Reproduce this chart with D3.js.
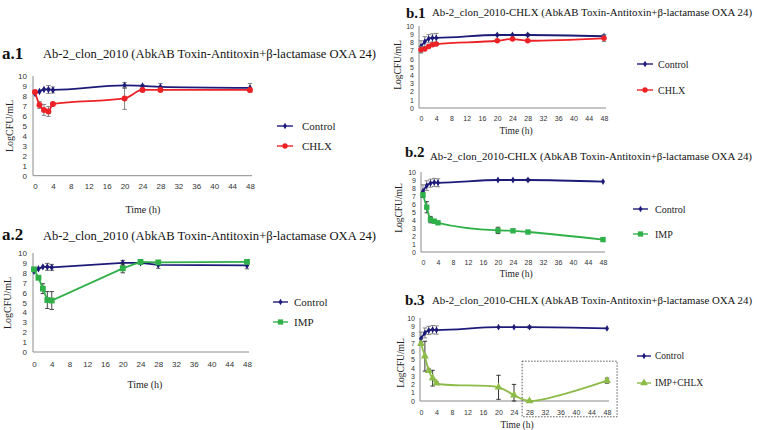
<!DOCTYPE html>
<html><head><meta charset="utf-8">
<script src="https://cdn.jsdelivr.net/npm/d3@7"></script>
<style>body{margin:0;background:#fff}svg{display:block}</style>
</head><body>
<svg id="c" width="758" height="430"></svg>
<script>
// ---- data ----
const times = [0, 1, 2, 3, 4, 20, 24, 28, 48];
const xTicks = [0, 4, 8, 12, 16, 20, 24, 28, 32, 36, 40, 44, 48];
const yTicks = [0, 1, 2, 3, 4, 5, 6, 7, 8, 9, 10];
const titleA = "Ab-2_clon_2010 (AbkAB Toxin-Antitoxin+β-lactamase OXA 24)";
const titleB = "Ab-2_clon_2010-CHLX (AbkAB Toxin-Antitoxin+β-lactamase OXA 24)";

const a1Control = [8.25, 8.45, 8.65, 8.65, 8.6, 9.05, 9.0, 8.9, 8.8];
const a1ControlErr = [0, 0, 0, 0.4, 0.3, 0.3, 0.1, 0.35, 0.45];
const a1Chlx = [8.4, 7.1, 6.6, 6.45, 7.2, 7.75, 8.6, 8.6, 8.6];
const a1ChlxErr = [0.1, 0.35, 0.55, 0.5, 0.1, 1.1, 0.15, 0.15, 0.15];

const a2Control = [8.15, 8.4, 8.6, 8.6, 8.55, 9.0, 9.0, 8.8, 8.75];
const a2ControlErr = [0, 0, 0, 0.35, 0.3, 0.25, 0.1, 0.35, 0.35];
const a2Imp = [8.35, 7.5, 6.4, 5.25, 5.2, 8.45, 9.1, 9.05, 9.1];
const a2ImpErr = [0.1, 0.15, 0.5, 0.85, 0.9, 0.45, 0.1, 0.1, 0.1];

const b1Control = [7.5, 8.1, 8.45, 8.55, 8.55, 8.9, 8.9, 8.9, 8.75];
const b1ControlErr = [0.7, 0.6, 0.5, 0.5, 0.55, 0.1, 0.1, 0.2, 0.2];
const b1Chlx = [7.1, 7.2, 7.5, 7.7, 7.8, 8.2, 8.4, 8.2, 8.5];
const b1ChlxErr = [0.4, 0.2, 0.2, 0.2, 0.2, 0.1, 0.1, 0.1, 0.4];

const b2Control = [7.6, 8.3, 8.6, 8.7, 8.65, 9.0, 9.0, 9.0, 8.8];
const b2ControlErr = [0.8, 0.6, 0.5, 0.5, 0.5, 0, 0, 0.15, 0];
const b2Imp = [7.15, 5.6, 4.05, 3.85, 3.65, 2.7, 2.65, 2.5, 1.55];
const b2ImpErr = [0.3, 0.7, 0.4, 0.2, 0.15, 0.4, 0.15, 0.15, 0.15];

const b3Control = [7.5, 8.2, 8.5, 8.6, 8.55, 8.9, 8.9, 8.9, 8.75];
const b3ControlErr = [0.8, 0.6, 0.5, 0.5, 0.5, 0, 0, 0.15, 0];
const b3ImpChlx = [6.9, 5.4, 3.65, 2.75, 2.15, 1.65, 0.7, 0.0, 2.45];
const b3ImpChlxErr = [0.2, 1.8, 0.2, 0.95, 0.15, 1.45, 1.3, 0.05, 0.3];
const b3BoxX = [26.1, 50.6];
const b3BoxY = [4.8, -1.9];

// ---- styles ----
const NAVY = "#1d1b78", RED = "#ec2227", GREEN = "#2fb049", LGREEN = "#8cbb47";
const SERIF = "Liberation Serif, Times New Roman, serif";
const SANS = "Liberation Sans, Arial, sans-serif";

const svg = d3.select("#c");

function symbolFor(kind, g, x, y, color, scale) {
  let sym, size;
  if (kind === "diamond") { sym = d3.symbolDiamond; size = 16; }
  else if (kind === "circle") { sym = d3.symbolCircle; size = 28; }
  else if (kind === "square") { sym = d3.symbolSquare; size = 34; }
  else { sym = d3.symbolTriangle; size = 32; }
  g.append("path").attr("d", d3.symbol().type(sym).size(size * (scale || 1))())
    .attr("transform", `translate(${x},${y})`).attr("fill", color);
}

function panel(cfg) {
  const x = d3.scaleLinear().domain([0, 48]).range(cfg.xr);
  const y = d3.scaleLinear().domain([0, 10]).range(cfg.yr);
  const g = svg.append("g");
  const xAxis = d3.axisBottom(x).tickValues(xTicks).tickSize(0).tickPadding(cfg.xpad);
  const gx = g.append("g").attr("transform", `translate(0,${cfg.yr[0]})`).call(xAxis);
  gx.select(".domain").attr("stroke", "#8a8a8a").attr("d", `M${cfg.axX},0H${cfg.xr[1] + 2}`);
  gx.selectAll("text").attr("font-family", SANS).attr("font-size", cfg.tick).attr("fill", "#333");
  const yAxis = d3.axisLeft(y).tickValues(yTicks).tickSize(0).tickPadding(cfg.ypad);
  const gy = g.append("g").attr("transform", `translate(${cfg.axX},0)`).call(yAxis);
  gy.select(".domain").attr("stroke", "#8a8a8a").attr("d", `M0,${cfg.yr[1]}V${cfg.yr[0]}`);
  gy.selectAll("text").attr("font-family", SANS).attr("font-size", cfg.tick).attr("fill", "#333");

  g.append("text").text(cfg.label).attr("x", cfg.labX).attr("y", cfg.labY)
    .attr("font-family", SERIF).attr("font-weight", "bold").attr("font-size", cfg.labSize).attr("fill", "#111");
  g.append("text").text(cfg.title).attr("x", cfg.titX).attr("y", cfg.titY)
    .attr("font-family", SERIF).attr("font-size", cfg.titSize).attr("fill", "#111")
    .attr("textLength", cfg.titW).attr("lengthAdjust", "spacingAndGlyphs");
  g.append("text").text("LogCFU/mL").attr("transform", `translate(${cfg.ylX},${cfg.ylY}) rotate(-90)`)
    .attr("text-anchor", "middle").attr("font-family", SERIF).attr("font-size", cfg.axSize).attr("fill", "#222");
  g.append("text").text("Time (h)").attr("x", cfg.tlX).attr("y", cfg.tlY)
    .attr("text-anchor", "middle").attr("font-family", SERIF).attr("font-size", cfg.axSize).attr("fill", "#222");

  if (cfg.box) {
    g.append("rect").attr("x", x(cfg.box.x[0])).attr("y", y(cfg.box.y[0]))
      .attr("width", x(cfg.box.x[1]) - x(cfg.box.x[0])).attr("height", y(cfg.box.y[1]) - y(cfg.box.y[0]))
      .attr("fill", "none").attr("stroke", "#444").attr("stroke-width", 0.9).attr("stroke-dasharray", "1.5,1.5");
  }

  cfg.series.forEach((s, si) => {
    const pts = times.map((t, i) => ({ t, v: s.vals[i], e: s.err[i] }));
    const eg = g.append("g").attr("stroke", s.errColor || "#555").attr("stroke-width", 0.9);
    pts.forEach(p => {
      if (p.e <= 0) return;
      const lo = Math.max(0, p.v - p.e), hi = p.v + p.e;
      eg.append("line").attr("x1", x(p.t)).attr("x2", x(p.t)).attr("y1", y(lo)).attr("y2", y(hi));
      eg.append("line").attr("x1", x(p.t) - 2.2).attr("x2", x(p.t) + 2.2).attr("y1", y(lo)).attr("y2", y(lo));
      eg.append("line").attr("x1", x(p.t) - 2.2).attr("x2", x(p.t) + 2.2).attr("y1", y(hi)).attr("y2", y(hi));
    });
    const line = d3.line().x(p => x(p.t)).y(p => y(p.v)).curve(s.curve || cfg.curve);
    g.append("path").datum(pts).attr("d", line).attr("fill", "none")
      .attr("stroke", s.color).attr("stroke-width", s.width || 1.8);
    pts.forEach(p => symbolFor(s.marker, g, x(p.t), y(p.v), s.color, cfg.mscale));
    const ly = cfg.leg.y[si];
    g.append("line").attr("x1", cfg.leg.x1).attr("x2", cfg.leg.x2).attr("y1", ly).attr("y2", ly)
      .attr("stroke", s.color).attr("stroke-width", 1.4);
    symbolFor(s.marker, g, (cfg.leg.x1 + cfg.leg.x2) / 2, ly, s.color, 0.8);
    g.append("text").text(s.name).attr("x", cfg.leg.tx).attr("y", ly).attr("dy", "0.35em")
      .attr("font-family", SERIF).attr("font-size", cfg.legSize).attr("fill", "#222");
  });
}

panel({
  xr: [35, 250], yr: [175.7, 76], axX: 33, xpad: 8, ypad: 6, tick: 8, mscale: 1,
  label: "a.1", labX: 2, labY: 59, labSize: 17, title: titleA, titX: 43, titY: 58, titSize: 12.5, titW: 333,
  ylX: 13, ylY: 126, tlX: 143, tlY: 213, axSize: 10, curve: d3.curveMonotoneX,
  series: [
    { name: "Control", vals: a1Control, err: a1ControlErr, color: NAVY, marker: "diamond", errColor: "#777" },
    { name: "CHLX", vals: a1Chlx, err: a1ChlxErr, color: RED, marker: "circle", errColor: "#777" }
  ],
  leg: { x1: 277, x2: 293, tx: 302, y: [126, 146] }, legSize: 11
});

panel({
  xr: [34, 247], yr: [352, 253], axX: 33, xpad: 9, ypad: 6, tick: 8, mscale: 1,
  label: "a.2", labX: 2, labY: 240, labSize: 17, title: titleA, titX: 43, titY: 240, titSize: 12.5, titW: 333,
  ylX: 11, ylY: 303, tlX: 145, tlY: 388, axSize: 10, curve: d3.curveLinear,
  series: [
    { name: "Control", vals: a2Control, err: a2ControlErr, color: NAVY, marker: "diamond", errColor: "#555" },
    { name: "IMP", vals: a2Imp, err: a2ImpErr, color: GREEN, marker: "square", errColor: "#333" }
  ],
  leg: { x1: 273, x2: 288, tx: 294, y: [302, 322] }, legSize: 11
});

panel({
  xr: [421, 604], yr: [108, 26], axX: 419, xpad: 8, ypad: 5, tick: 7, mscale: 0.85,
  label: "b.1", labX: 406, labY: 18, labSize: 15, title: titleB, titX: 432, titY: 16, titSize: 10.6, titW: 320,
  ylX: 401, ylY: 65, tlX: 516, tlY: 134, axSize: 9.5, curve: d3.curveMonotoneX,
  series: [
    { name: "Control", vals: b1Control, err: b1ControlErr, color: NAVY, marker: "diamond", errColor: "#777" },
    { name: "CHLX", vals: b1Chlx, err: b1ChlxErr, color: RED, marker: "circle", errColor: "#777" }
  ],
  leg: { x1: 637, x2: 653, tx: 658, y: [64, 90] }, legSize: 10
});

panel({
  xr: [423, 603], yr: [252, 172], axX: 421, xpad: 8, ypad: 5, tick: 7, mscale: 0.85,
  label: "b.2", labX: 405, labY: 157, labSize: 15, title: titleB, titX: 430, titY: 160, titSize: 10.6, titW: 322,
  ylX: 402, ylY: 208, tlX: 516, tlY: 277, axSize: 9.5, curve: d3.curveMonotoneX,
  series: [
    { name: "Control", vals: b2Control, err: b2ControlErr, color: NAVY, marker: "diamond", errColor: "#777" },
    { name: "IMP", vals: b2Imp, err: b2ImpErr, color: GREEN, marker: "square", errColor: "#333" }
  ],
  leg: { x1: 633, x2: 648, tx: 655, y: [209, 234] }, legSize: 10
});

panel({
  xr: [421, 607], yr: [401, 318], axX: 420, xpad: 9, ypad: 5, tick: 7, mscale: 0.85,
  label: "b.3", labX: 405, labY: 305, labSize: 15, title: titleB, titX: 432, titY: 304, titSize: 10.6, titW: 320,
  ylX: 404, ylY: 363, tlX: 517, tlY: 428, axSize: 9.5, curve: d3.curveMonotoneX,
  box: { x: b3BoxX, y: b3BoxY },
  series: [
    { name: "Control", vals: b3Control, err: b3ControlErr, color: NAVY, marker: "diamond", errColor: "#777" },
    { name: "IMP+CHLX", vals: b3ImpChlx, err: b3ImpChlxErr, color: LGREEN, marker: "triangle", errColor: "#222", curve: d3.curveCatmullRom.alpha(0.5) }
  ],
  leg: { x1: 637, x2: 651, tx: 655, y: [356, 383] }, legSize: 9.5
});
</script>
</body></html>
